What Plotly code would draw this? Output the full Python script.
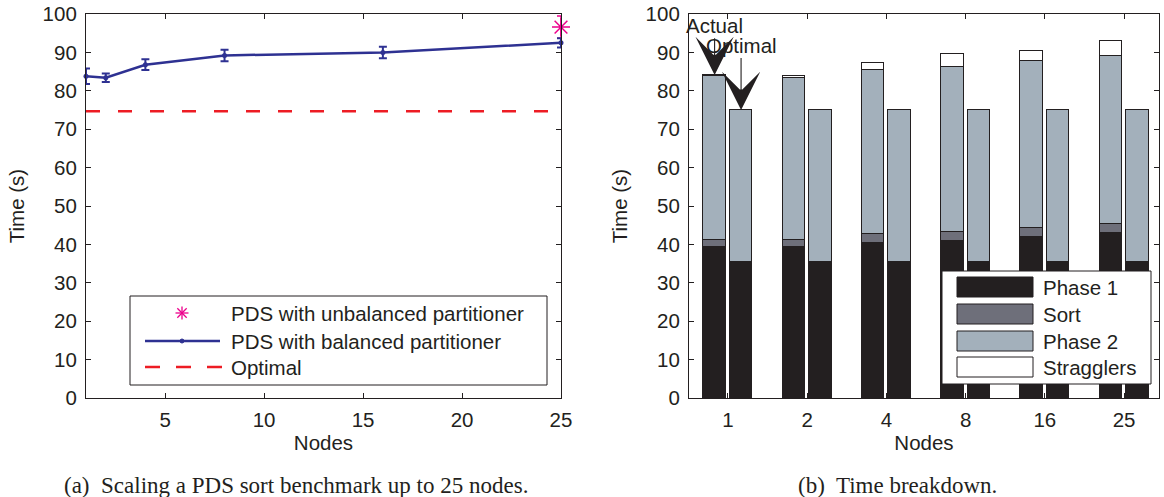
import plotly.graph_objects as go

# ---------------- data ----------------
nodes = [1, 2, 4, 8, 16, 25]
balanced_time = [83.8, 83.4, 86.8, 89.2, 90.0, 92.5]
balanced_err = [2.0, 1.1, 1.4, 1.5, 1.5, 1.2]
unbalanced_nodes = [25]
unbalanced_time = [96.6]
unbalanced_err = [2.9]
optimal_time = [74.7, 74.7]
optimal_nodes = [1, 25]

node_labels = ["1", "2", "4", "8", "16", "25"]
phase1_actual = [39.2, 39.2, 40.4, 40.8, 41.9, 43.0]
sort_actual = [2.0, 2.0, 2.2, 2.5, 2.3, 2.3]
phase2_actual = [42.7, 42.2, 42.8, 43.0, 43.5, 43.8]
stragglers_actual = [0.2, 0.5, 1.8, 3.3, 2.6, 3.8]
phase1_optimal = [35.5, 35.5, 35.5, 35.5, 35.5, 35.5]
phase2_optimal = [39.5, 39.5, 39.5, 39.5, 39.5, 39.5]

# ---------------- style ----------------
W, H = 1164, 497
INK = "#231f20"
BLUE = "#2e3192"
PINK = "#ec008c"
RED = "#ed1c24"
C_P1, C_SORT, C_P2, C_STR = "#231f20", "#6e6f7a", "#a3b0bb", "#ffffff"
FONT = "Liberation Sans, Arial, sans-serif"
SERIF = "Liberation Serif, Times New Roman, serif"
FS = 20.5


def px(x):
    return x / W


def py(y):
    return 1 - y / H


fig = go.Figure()

# ---- left chart ----
fig.add_trace(go.Scatter(
    x=unbalanced_nodes, y=unbalanced_time, mode="markers",
    name="PDS with unbalanced partitioner",
    marker=dict(symbol="asterisk-open", size=15, color=PINK, line=dict(color=PINK, width=1.5)),
    error_y=dict(type="data", array=unbalanced_err, color=PINK, thickness=1.5, width=4),
    cliponaxis=False, showlegend=False, xaxis="x", yaxis="y"))
fig.add_trace(go.Scatter(
    x=optimal_nodes, y=optimal_time, mode="lines", name="Optimal",
    line=dict(color=RED, width=2.5, dash="14px,18px"),
    showlegend=False, xaxis="x", yaxis="y"))
fig.add_trace(go.Scatter(
    x=nodes, y=balanced_time, mode="lines+markers",
    name="PDS with balanced partitioner",
    line=dict(color=BLUE, width=2.5), marker=dict(size=5, color=BLUE),
    error_y=dict(type="data", array=balanced_err, color=BLUE, thickness=2, width=4),
    cliponaxis=False, showlegend=False, xaxis="x", yaxis="y"))

# ---- right chart (stacked bars, actual & optimal side by side) ----
idx = list(range(1, len(nodes) + 1))
off = 0.167
bw = 0.285
actual_x = [i - off for i in idx]
optimal_x = [i + off for i in idx]
edge = dict(color=INK, width=1)

for name, vals, col in [("Phase 1", phase1_actual, C_P1), ("Sort", sort_actual, C_SORT),
                        ("Phase 2", phase2_actual, C_P2), ("Stragglers", stragglers_actual, C_STR)]:
    fig.add_trace(go.Bar(x=actual_x, y=vals, width=bw, name=name,
                         marker=dict(color=col, line=edge), showlegend=False,
                         xaxis="x2", yaxis="y2"))
for name, vals, col in [("Phase 1 (optimal)", phase1_optimal, C_P1),
                        ("Phase 2 (optimal)", phase2_optimal, C_P2)]:
    fig.add_trace(go.Bar(x=optimal_x, y=vals, width=bw, name=name,
                         marker=dict(color=col, line=edge), showlegend=False,
                         xaxis="x2", yaxis="y2"))

actual_total = [a + b + c + d for a, b, c, d in zip(phase1_actual, sort_actual, phase2_actual, stragglers_actual)]
optimal_total = [a + b for a, b in zip(phase1_optimal, phase2_optimal)]

axis_common = dict(showline=True, linecolor=INK, linewidth=1.2, mirror="ticks",
                   ticks="inside", ticklen=5, tickwidth=1, tickcolor=INK,
                   showgrid=False, zeroline=False, automargin=False,
                   tickfont=dict(family=FONT, size=FS, color=INK))
title_font = dict(family=FONT, size=FS, color=INK)

fig.update_layout(
    width=W, height=H, margin=dict(l=0, r=0, t=0, b=0, autoexpand=False),
    paper_bgcolor="white", plot_bgcolor="white",
    barmode="stack", bargap=0, showlegend=False,
    font=dict(family=FONT, color=INK),
    xaxis=dict(domain=[px(86), px(561)], range=[1, 25], tickvals=[5, 10, 15, 20, 25], ticklabelstandoff=3,
               title=dict(text="Nodes", font=title_font, standoff=5), anchor="y", **axis_common),
    yaxis=dict(domain=[py(398), py(14)], range=[0, 100], dtick=10, ticklabelstandoff=4,
               title=dict(text="Time (s)", font=title_font, standoff=12), anchor="x", **axis_common),
    xaxis2=dict(domain=[px(689), px(1159)], range=[0.51, 6.44], tickvals=idx, ticktext=node_labels,
                ticklabelstandoff=3,
                title=dict(text="Nodes", font=title_font, standoff=5), anchor="y2", **axis_common),
    yaxis2=dict(domain=[py(398), py(14)], range=[0, 100], dtick=10, ticklabelstandoff=4,
                title=dict(text="Time (s)", font=title_font, standoff=12), anchor="x2", **axis_common),
)

shapes = []
annotations = []

# ---- arrows "Actual" / "Optimal" ----
for text, xx, yy, ty in [("Actual", actual_x[0], actual_total[0], 97.1),
                         ("Optimal", optimal_x[0], optimal_total[0], 91.9)]:
    annotations.append(dict(x=xx, y=yy, ax=xx, ay=ty, xref="x2", yref="y2", axref="x2", ayref="y2",
                            text=text, showarrow=True, arrowhead=3, arrowsize=5.8, arrowwidth=1.1,
                            arrowcolor=INK, standoff=0, font=dict(family=FONT, size=FS, color=INK)))

# ---- left legend ----
shapes.append(dict(type="rect", xref="paper", yref="paper", x0=px(130), x1=px(547), y0=py(385), y1=py(296),
                   line=dict(color=INK, width=1), fillcolor="white", layer="above"))
cx, cy, r = 182, 313, 6.5
for dx, dy in [(r, 0), (0, r), (r * 0.72, r * 0.72), (r * 0.72, -r * 0.72)]:
    shapes.append(dict(type="line", xref="paper", yref="paper", x0=px(cx - dx), x1=px(cx + dx),
                       y0=py(cy - dy), y1=py(cy + dy), line=dict(color=PINK, width=1.3), layer="above"))
shapes.append(dict(type="line", xref="paper", yref="paper", x0=px(145), x1=px(220), y0=py(341), y1=py(341),
                   line=dict(color=BLUE, width=2.5), layer="above"))
shapes.append(dict(type="circle", xref="paper", yref="paper", x0=px(180), x1=px(184), y0=py(343), y1=py(339),
                   line=dict(color=BLUE, width=1), fillcolor=BLUE, layer="above"))
shapes.append(dict(type="line", xref="paper", yref="paper", x0=px(145), x1=px(222), y0=py(367), y1=py(367),
                   line=dict(color=RED, width=2.5, dash="15px,16px"), layer="above"))
for text, yy in [("PDS with unbalanced partitioner", 313), ("PDS with balanced partitioner", 341), ("Optimal", 367)]:
    annotations.append(dict(x=px(229), y=py(yy), xref="paper", yref="paper", text=text, showarrow=False,
                            xanchor="left", yanchor="middle", font=dict(family=FONT, size=FS, color=INK)))

# ---- right legend ----
shapes.append(dict(type="rect", xref="paper", yref="paper", x0=px(942), x1=px(1151), y0=py(384), y1=py(271),
                   line=dict(color=INK, width=1), fillcolor="white", layer="above"))
for text, col, y0, y1 in [("Phase 1", C_P1, 277, 297), ("Sort", C_SORT, 304, 324),
                          ("Phase 2", C_P2, 331, 351), ("Stragglers", C_STR, 357, 377)]:
    shapes.append(dict(type="rect", xref="paper", yref="paper", x0=px(957), x1=px(1033), y0=py(y1), y1=py(y0),
                       line=dict(color=INK, width=1), fillcolor=col, layer="above"))
    annotations.append(dict(x=px(1041), y=py((y0 + y1) / 2), xref="paper", yref="paper", text=text,
                            showarrow=False, xanchor="left", yanchor="middle",
                            font=dict(family=FONT, size=FS, color=INK)))

# ---- captions ----
annotations.append(dict(x=px(296), y=py(485), xref="paper", yref="paper",
                        text="(a)  Scaling a PDS sort benchmark up to 25 nodes.", showarrow=False,
                        xanchor="center", yanchor="middle", font=dict(family=SERIF, size=23, color=INK)))
annotations.append(dict(x=px(897), y=py(485), xref="paper", yref="paper",
                        text="(b)  Time breakdown.", showarrow=False,
                        xanchor="center", yanchor="middle", font=dict(family=SERIF, size=23, color=INK)))

fig.update_layout(shapes=shapes, annotations=annotations)
fig.write_html("out.html")
